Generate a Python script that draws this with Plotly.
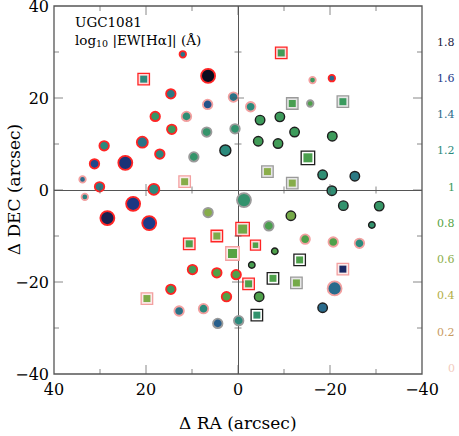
import plotly.graph_objects as go
from plotly.colors import sample_colorscale

# spaxel offsets (arcsec), log10|EW[Ha]| (A), marker kind, flag class, size class
ra = [12.0, 20.5, 6.5, 14.6, 1.0, 6.6, 18.0, 11.2, 14.4, 6.8,
      0.65, 2.75, 29.1, 20.8, 17.0, 9.6, 31.2, 24.5, 11.6, 33.8,
      30.1, 18.3, -1.3, -9.4, -16.2, -20.4, -11.8, -15.7, -22.8, -2.75,
      -4.8, -9.1, -4.4, -8.7, -12.3, -20.5, -15.2, -6.4, -11.8, -18.4,
      -25.4, -20.4, 33.3, 22.8, 28.4, 19.3, 6.5, -1.0, 4.6, 1.2,
      10.6, 9.9, 4.6, 0.4, -3.8, 14.6, 2.5, 19.8, 12.8, 7.5,
      4.4, -0.15, -6.7, -11.5, -8.0, -14.6, -20.7, -26.4, -22.9, -30.7,
      -29.1, -3.0, -13.4, -7.6, -2.3, -12.7, -22.8, -21.0, -18.4, -4.6,
      -4.1]
dec = [29.5, 24.1, 24.8, 20.9, 20.2, 18.6, 16.0, 16.0, 13.2, 12.6,
       13.3, 8.6, 9.6, 10.4, 7.8, 7.2, 5.7, 5.9, 1.8, 2.3,
       0.7, 0.15, -2.2, 29.8, 23.9, 24.3, 18.8, 18.8, 19.2, 18.1,
       15.2, 15.9, 10.6, 10.1, 12.6, 11.7, 7.0, 4.0, 1.5, 3.3,
       3.0, -0.15, -1.5, -3.0, -6.1, -7.2, -4.9, -8.5, -10.0, -13.8,
       -11.7, -17.3, -18.0, -18.4, -12.0, -21.6, -23.2, -23.6, -26.3, -25.8,
       -29.0, -28.4, -7.8, -5.6, -13.3, -10.7, -11.3, -11.6, -3.4, -3.5,
       -7.6, -16.3, -15.2, -19.2, -20.4, -20.2, -17.2, -21.4, -25.6, -23.2,
       -27.2]
log_ew = [1.35, 1.2, 1.9, 1.3, 1.35, 1.5, 1.05, 1.15, 1.0, 1.08,
          1.1, 1.2, 1.2, 1.35, 1.22, 1.08, 1.55, 1.65, 0.62, 1.4,
          1.3, 1.2, 1.1, 0.95, 1.0, 1.4, 0.9, 0.85, 1.0, 1.2,
          0.98, 0.98, 0.95, 0.95, 0.98, 0.98, 0.88, 0.6, 0.62, 1.15,
          1.3, 1.15, 1.25, 1.62, 1.75, 1.6, 0.62, 0.7, 0.65, 0.8,
          0.85, 0.95, 0.82, 0.85, 0.85, 1.0, 0.82, 0.65, 1.35, 1.2,
          1.45, 1.2, 0.88, 0.68, 0.85, 0.85, 0.85, 1.2, 1.1, 1.05,
          1.1, 0.9, 0.85, 0.85, 0.85, 0.68, 1.7, 1.4, 1.4, 0.85,
          1.1]
kind = list("osooooooooooooooooso"
            "ooosoososo"
            "oooooosssoooooooosssso"
            "oosoosoooooooooooooo"
            "sssssoooso")
flag = list("rrrrpprprg"
            "gkrrrgrrpp"
            "rrgrprgggp"
            "kkkkkkkgg"
            "kkkprrrgrrprrr"
            "rrrrpppgg"
            "gkkpppkkkkk"
            "kr"
            "gppkkkkgk")
size_class = list("SMXMMMMMMM"
                  "MLMLMMMXMS"
                  "MLXMSSMSMM"
                  "MMMMMMLMMM"
                  "MMSXXXMLMLM"
                  "MMMSMMMMMM"
                  "MMMSMMMMMS"
                  "SMMMMMXMMMS")

major_ticks = [-40, -20, 0, 20, 40]
minor_ticks = [-30, -10, 10, 30]

cb_values = [0, 0.2, 0.4, 0.6, 0.8, 1, 1.2, 1.4, 1.6, 1.8]
cb_labels = ["0", "0.2", "0.4", "0.6", "0.8", "1", "1.2", "1.4", "1.6", "1.8"]

LIM = 40.0
CMIN, CMAX = 0.0, 2.0
cscale = [[0.0, "#f2cbbd"], [0.1, "#c99a62"], [0.2, "#b2ae45"], [0.3, "#8bae4b"],
          [0.4, "#55a343"], [0.5, "#3a9a5e"], [0.6, "#2b8a7c"], [0.7, "#2a6b8c"],
          [0.8, "#1c3b8a"], [0.9, "#17173d"], [1.0, "#000000"]]

edge_color = {"r": "#ff2424", "p": "#f3a0a0", "g": "#9a9a9a", "k": "#1e1e1e"}
band_color = {"r": "#ffd9d9", "p": "#fcebeb", "g": "#e6e6e6", "k": "#ffffff"}
edge_width = {"r": 1.8, "p": 1.8, "g": 1.8, "k": 1.4}
circle_px = {"S": 6.5, "M": 9.5, "L": 11, "X": 14}
square_px = {"S": 10, "M": 11.5, "L": 13.5, "X": 14}

FONT = "DejaVu Serif"
AXC = "#555555"
PLOT_PX = 368  # square plot area, px
UNIT = 2 * LIM / PLOT_PX  # data units per pixel
LINE_SYM = 1.4  # plotly line-ns / line-ew marker length = 1.4 * size

fig = go.Figure()

for f in ["g", "p", "r", "k"]:
    idx = [i for i in range(len(ra)) if kind[i] == "o" and flag[i] == f]
    if not idx:
        continue
    fig.add_trace(go.Scatter(
        x=[ra[i] for i in idx], y=[dec[i] for i in idx], mode="markers",
        marker=dict(symbol="circle", size=[circle_px[size_class[i]] for i in idx],
                    color=[log_ew[i] for i in idx], colorscale=cscale,
                    cmin=CMIN, cmax=CMAX, opacity=1,
                    line=dict(color=edge_color[f], width=edge_width[f])),
        hoverinfo="skip",
    ))

for f in ["g", "p", "r", "k"]:
    idx = [i for i in range(len(ra)) if kind[i] == "s" and flag[i] == f]
    if not idx:
        continue
    xs = [ra[i] for i in idx]
    ys = [dec[i] for i in idx]
    outer = [square_px[size_class[i]] for i in idx]
    fig.add_trace(go.Scatter(
        x=xs, y=ys, mode="markers",
        marker=dict(symbol="square", size=outer, color=band_color[f], opacity=1,
                    line=dict(color=edge_color[f], width=1.3)),
        hoverinfo="skip",
    ))
    fig.add_trace(go.Scatter(
        x=xs, y=ys, mode="markers",
        marker=dict(symbol="square", size=[s - 4.5 for s in outer],
                    color=[log_ew[i] for i in idx], colorscale=cscale,
                    cmin=CMIN, cmax=CMAX, opacity=1, line=dict(width=0)),
        hoverinfo="skip",
    ))

# plot frame: one open square marker spanning the whole plot area
fig.add_trace(go.Scatter(
    x=[0], y=[0], mode="markers", cliponaxis=False, hoverinfo="skip",
    marker=dict(symbol="square-open", size=PLOT_PX, color=AXC,
                line=dict(color=AXC, width=1.3)),
))

# tick marks: inside on all four edges, crossing on the zero lines
vx, vy, vs = [], [], []  # vertical ticks
hx, hy, hs = [], [], []  # horizontal ticks
for vals, inner, cross in [(major_ticks, 9, 12), (minor_ticks, 5, 7)]:
    off = inner / 2 * UNIT
    for v in vals:
        if abs(v) == LIM:
            continue
        vx += [v, v]
        vy += [-LIM + off, LIM - off]
        vs += [inner / LINE_SYM] * 2
        hx += [LIM - off, -LIM + off]
        hy += [v, v]
        hs += [inner / LINE_SYM] * 2
        if v != 0:
            vx.append(v)
            vy.append(0)
            vs.append(cross / LINE_SYM)
            hx.append(0)
            hy.append(v)
            hs.append(cross / LINE_SYM)

fig.add_trace(go.Scatter(
    x=vx, y=vy, mode="markers", cliponaxis=False, hoverinfo="skip",
    marker=dict(symbol="line-ns-open", size=vs, color=AXC,
                line=dict(color=AXC, width=1)),
))
fig.add_trace(go.Scatter(
    x=hx, y=hy, mode="markers", cliponaxis=False, hoverinfo="skip",
    marker=dict(symbol="line-ew-open", size=hs, color=AXC,
                line=dict(color=AXC, width=1)),
))


def axis_style(rng):
    return dict(
        range=rng, tickmode="array", tickvals=major_ticks,
        ticks="", showline=False,
        showgrid=False, zeroline=True, zerolinecolor=AXC, zerolinewidth=1,
        tickfont=dict(family=FONT, size=16, color="black"),
        ticklabeloverflow="allow", ticklabelstandoff=4,
        automargin=False,
    )


fig.update_layout(
    template="none",
    xaxis=axis_style([LIM, -LIM]),
    yaxis=axis_style([-LIM, LIM]),
)

fig.add_annotation(
    text="Δ RA (arcsec)", xref="paper", yref="paper", x=0.5, y=-0.133,
    xanchor="center", yanchor="middle", showarrow=False,
    font=dict(family=FONT, size=17, color="black"),
)
fig.add_annotation(
    text="Δ DEC (arcsec)", xref="paper", yref="paper", x=-0.108, y=0.5,
    xanchor="center", yanchor="middle", textangle=-90, showarrow=False,
    font=dict(family=FONT, size=17, color="black"),
)

fig.add_annotation(
    text="UGC1081<br>log<sub>10</sub> |EW[Hα]| (Å)", xref="paper", yref="paper",
    x=0.052, y=0.985, xanchor="left", yanchor="top", align="left", showarrow=False,
    font=dict(family=FONT, size=13.5, color="black"),
)

label_colors = sample_colorscale(cscale, [(v - CMIN) / (CMAX - CMIN) for v in cb_values])
for v, lab, col in zip(cb_values, cb_labels, label_colors):
    fig.add_annotation(
        text=lab, xref="paper", yref="paper", x=1.095, y=0.015 + v * 0.4925,
        xanchor="right", yanchor="middle", showarrow=False,
        font=dict(family=FONT, size=11, color=col),
    )

fig.update_layout(
    width=459, height=436,
    paper_bgcolor="white", plot_bgcolor="white",
    showlegend=False,
    margin=dict(l=54, r=37, t=6, b=62),
)

fig.write_html("out.html", config={"displayModeBar": False},
               post_script="document.body.style.margin='0';")
